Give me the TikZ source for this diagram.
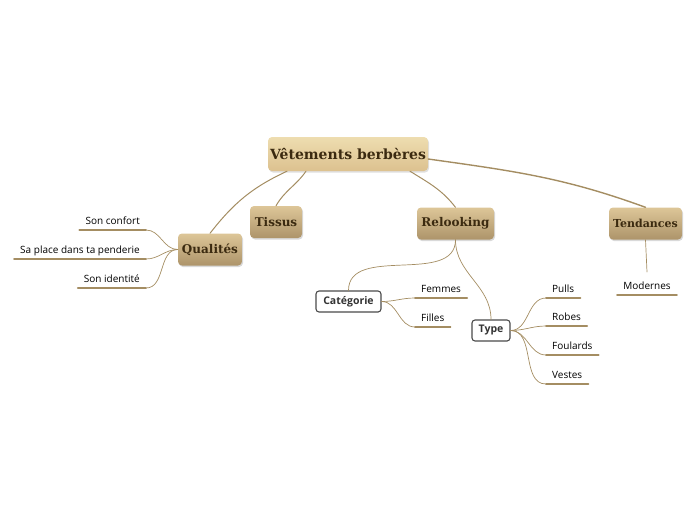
\documentclass[tikz,border=0pt]{standalone}
\usepackage{fontspec}
\newfontfamily\slabfont{DejaVu Serif}
\newfontfamily\leaffont{Open Sans}
\usetikzlibrary{shadows}
\definecolor{rootTop}{HTML}{EEDDB0}
\definecolor{rootBot}{HTML}{DCC18F}
\definecolor{mainTop}{HTML}{DDC698}
\definecolor{mainBot}{HTML}{AD946A}
\definecolor{inkBrown}{HTML}{3B2A10}
\definecolor{lineTan}{HTML}{A48D62}
\definecolor{boxGray}{HTML}{4A4A4A}
\tikzset{
  rootbox/.style={rounded corners=4pt, top color=rootTop, bottom color=rootBot,
    minimum width=160pt, minimum height=34pt, inner sep=0pt, text=inkBrown,
    font=\slabfont\bfseries\fontsize{14}{16}\selectfont,
    drop shadow={opacity=0.25, shadow xshift=1pt, shadow yshift=-1.5pt}},
  mainbox/.style={rounded corners=4pt, top color=mainTop, bottom color=mainBot,
    minimum height=32pt, inner sep=0pt, text=inkBrown,
    font=\slabfont\bfseries\fontsize{12}{14}\selectfont,
    drop shadow={opacity=0.3, shadow xshift=1pt, shadow yshift=-1.5pt}},
  subbox/.style={draw=boxGray, line width=1.1pt, rounded corners=3pt, fill=white,
    minimum height=21pt, inner sep=0pt, text=black!80,
    font=\leaffont\bfseries\fontsize{10.5}{12}\selectfont},
  leaf/.style={inner xsep=6pt, inner ysep=5pt, text depth=0pt, text=black,
    font=\leaffont\fontsize{10}{12}\selectfont},
  uline/.style={draw=lineTan, line width=1.8pt},
  branch/.style={draw=lineTan, line width=0.7pt},
}
\begin{document}
\begin{tikzpicture}[x=1pt, y=-1pt, line cap=round, line join=round]
  \useasboundingbox (0,0) rectangle (696,520);
  % main topics
  \node[rootbox] (root) at (348,154) {Vêtements berbères};
  \node[mainbox, minimum width=64pt] (qual) at (210,249.5) {Qualités};
  \node[mainbox, minimum width=52pt] (tissus) at (276,222) {Tissus};
  \node[mainbox, minimum width=77pt] (relook) at (455.5,223.5) {Relooking};
  \node[mainbox, minimum width=73pt, font=\slabfont\bfseries\fontsize{11}{13}\selectfont] (tend) at (645.5,223.5) {Tendances};
  \node[subbox, minimum width=65pt] (cat) at (348.5,301.5) {Catégorie};
  \node[subbox, minimum width=38pt] (type) at (491,330.5) {Type};
  % leaves
  \node[leaf, anchor=south east] (confort) at (146,230) {Son confort};
  \node[leaf, anchor=south east] (place) at (146,259) {Sa place dans ta penderie};
  \node[leaf, anchor=south east] (identite) at (146,288) {Son identité};
  \node[leaf, anchor=south west] (femmes) at (415,298) {Femmes};
  \node[leaf, anchor=south west] (filles) at (415,327) {Filles};
  \node[leaf, anchor=south west] (pulls) at (546,298) {Pulls};
  \node[leaf, anchor=south west] (robes) at (546,326) {Robes};
  \node[leaf, anchor=south west] (foulards) at (546,355) {Foulards};
  \node[leaf, anchor=south west] (vestes) at (546,384) {Vestes};
  \node[leaf, anchor=south] (modernes) at (647,295) {Modernes};
  \foreach \n in {confort,place,identite,femmes,filles,pulls,robes,foulards,vestes,modernes}
    \draw[uline] (\n.south west) -- (\n.south east);
  % connectors
  \draw[branch, line width=1pt] ([xshift=-61pt]root.south) to[out=205, in=52] (qual.north);
  \draw[branch, line width=1pt] ([xshift=-42pt]root.south) to[out=235, in=60] (tissus.north);
  \draw[branch, line width=1pt] ([xshift=62pt]root.south) to[out=-32, in=128] (relook.north);
  \draw[branch, line width=1.4pt] ([yshift=-5pt]root.east) to[out=-8, in=160] (tend.north);
  \foreach \n in {confort,place,identite}
    \draw[branch] (qual.west) to[out=180, in=0] (\n.south east);
  \draw[branch] (relook.south) to[out=-90, in=90] (cat.north);
  \draw[branch] (relook.south) to[out=-90, in=90] (type.north);
  \foreach \n in {femmes,filles}
    \draw[branch] (cat.east) to[out=0, in=180] (\n.south west);
  \foreach \n in {pulls,robes,foulards,vestes}
    \draw[branch] (type.east) to[out=0, in=180] (\n.south west);
  \draw[branch] (tend.south) -- ([yshift=5pt]modernes.north);
\end{tikzpicture}
\end{document}
